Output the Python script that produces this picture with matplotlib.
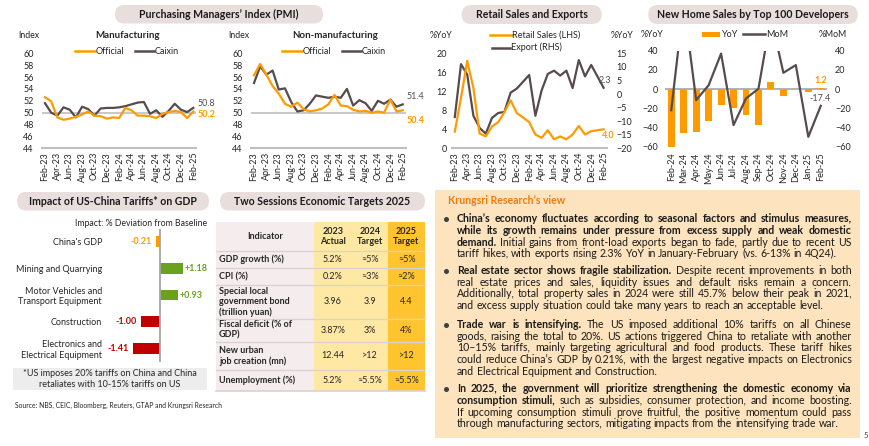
import matplotlib
matplotlib.use('Agg')
import matplotlib.pyplot as plt
from matplotlib.patches import FancyBboxPatch, Rectangle
from matplotlib.font_manager import FontProperties

W, H = 870, 446
FONT = ['Lato', 'DejaVu Sans']
plt.rcParams['font.family'] = FONT

# ---------------- data ----------------
pmi_months = ['Feb-23', 'Mar-23', 'Apr-23', 'May-23', 'Jun-23', 'Jul-23', 'Aug-23', 'Sep-23',
              'Oct-23', 'Nov-23', 'Dec-23', 'Jan-24', 'Feb-24', 'Mar-24', 'Apr-24', 'May-24',
              'Jun-24', 'Jul-24', 'Aug-24', 'Sep-24', 'Oct-24', 'Nov-24', 'Dec-24', 'Jan-25', 'Feb-25']
mfg_official = [52.6, 51.9, 49.2, 48.8, 49.0, 49.3, 49.7, 50.2, 49.5, 49.4, 49.0, 49.2, 49.1,
                50.8, 50.4, 49.5, 49.5, 49.4, 49.1, 49.8, 50.1, 50.3, 50.1, 49.1, 50.2]
mfg_caixin = [51.6, 50.0, 49.5, 50.9, 50.5, 49.2, 51.0, 50.6, 49.5, 50.7, 50.8, 50.8, 50.9,
              51.1, 51.4, 51.7, 51.8, 49.8, 50.4, 49.3, 50.3, 51.5, 50.5, 50.1, 50.8]
nonmfg_official = [56.3, 58.2, 56.4, 54.5, 53.2, 51.5, 51.0, 51.7, 50.6, 50.2, 50.4, 50.7, 51.4,
                   53.0, 51.2, 51.1, 50.5, 50.2, 50.3, 50.0, 50.2, 50.0, 52.2, 50.2, 50.4]
nonmfg_caixin = [55.0, 57.8, 56.4, 57.1, 53.9, 54.1, 51.8, 50.2, 50.4, 51.5, 52.9, 52.7, 52.5,
                 52.7, 52.5, 54.0, 51.2, 52.1, 51.6, 50.3, 52.0, 51.5, 52.2, 51.0, 51.4]

retail_sales = [3.5, 10.6, 18.4, 12.7, 3.1, 2.5, 4.6, 5.5, 7.6, 10.1, 7.4, 6.5, 5.5,
                2.9, 2.2, 3.8, 1.9, 2.5, 1.9, 2.9, 4.7, 2.9, 3.6, 3.8, 4.0]
exports = [-8.5, 11.0, 7.2, -8.0, -12.5, -14.6, -8.8, -7.0, -6.6, 0.5, 2.0, 4.5, 7.0,
           -8.0, 1.3, 7.4, 8.6, 6.8, 8.6, 2.2, 12.5, 6.5, 10.7, 6.5, 2.3]

home_months = ['Feb-24', 'Mar-24', 'Apr-24', 'May-24', 'Jun-24', 'Jul-24', 'Aug-24',
               'Sep-24', 'Oct-24', 'Nov-24', 'Dec-24', 'Jan-25', 'Feb-25']
home_yoy = [-60.0, -46.0, -45.0, -33.5, -17.0, -19.5, -27.0, -37.8, 7.3, -7.0, -0.2, -3.3, 1.2]
home_mom = [-22.0, 90.0, -11.5, 4.0, 37.0, -37.5, -9.7, 0.4, 75.0, 17.0, 25.0, -49.7, -17.4]

tariff_sectors = ["China's GDP", 'Mining and Quarrying', 'Motor Vehicles and\nTransport Equipment',
                  'Construction', 'Electronics and\nElectrical Equipment']
tariff_impact = [-0.21, 1.18, 0.93, -1.00, -1.41]

table_indicators = [['GDP growth (%)'], ['CPI (%)'],
                    ['Special local', 'government bond', '(trillion yuan)'],
                    ['Fiscal deficit (% of', 'GDP)'],
                    ['New urban', 'job creation (mn)'],
                    ['Unemployment (%)']]
actual_2023 = ['5.2%', '0.2%', '3.96', '3.87%', '12.44', '5.2%']
target_2024 = ['≈5%', '≈3%', '3.9', '3%', '>12', '≈5.5%']
target_2025 = ['≈5%', '≈2%', '4.4', '4%', '>12', '≈5.5%']

# ---------------- styling ----------------
ORANGE = '#FF9A00'
DARK = '#584B4E'
GRID = '#BFBFBF'
TXT = '#262626'
GREEN = '#6AA11E'
RED = '#C00000'
PILL = '#E8DFDD'

fig = plt.figure(figsize=(W / 100, H / 100), dpi=100)
bg = fig.add_axes([0, 0, 1, 1])
bg.set_xlim(0, W)
bg.set_ylim(H, 0)
bg.axis('off')


def rect(x0, y0, x1, y1):
    return [x0 / W, 1 - y1 / H, (x1 - x0) / W, (y1 - y0) / H]


def pill(x0, y0, x1, y1, text):
    r = (y1 - y0) / 2
    bg.add_patch(FancyBboxPatch((x0, y0), x1 - x0, y1 - y0,
                                boxstyle=f'round,pad=0,rounding_size={r}',
                                fc=PILL, ec='none', zorder=1))
    bg.text((x0 + x1) / 2, (y0 + y1) / 2 + 0.5, text, ha='center', va='center',
            fontsize=7.6, fontweight='bold', color='#1a1a1a', zorder=2)


def px2pt(p):
    return p * 0.72


def style_axes(ax):
    for s in ['top', 'right', 'left']:
        ax.spines[s].set_visible(False)
    ax.spines['bottom'].set_color(GRID)
    ax.spines['bottom'].set_linewidth(1.5)
    ax.patch.set_visible(False)
    ax.tick_params(length=0, labelsize=6.5, colors=TXT)
    ax.tick_params(axis='x', pad=px2pt(3.5))


# ---------------- PMI charts ----------------
pill(115, 5, 323, 23.5, 'Purchasing Managers’ Index (PMI)')


def pmi_chart(x0, x1, official, caixin, title, title_x, idx_x, leg_x, lab_hi, lab_lo, ypad):
    ax = fig.add_axes(rect(x0, 53.3, x1, 148.3))
    xs = range(len(pmi_months))
    ax.axhline(50, color=GRID, lw=1.2, zorder=0)
    ax.plot(xs, caixin, color=DARK, lw=1.6, zorder=3)
    ax.plot(xs, official, color=ORANGE, lw=1.6, zorder=4)
    ax.set_xlim(-0.5, len(pmi_months) - 0.5)
    ax.set_ylim(44, 60)
    ax.set_yticks(range(44, 61, 2))
    ax.set_xticks(range(0, len(pmi_months), 2))
    ax.set_xticklabels(pmi_months[::2], rotation=90)
    style_axes(ax)
    ax.tick_params(axis='y', pad=px2pt(ypad))
    n = len(pmi_months) - 1
    ax.annotate(f'{caixin[-1]:.1f}', (n, caixin[-1]), xytext=(px2pt(4), px2pt(lab_hi)),
                textcoords='offset points', ha='left', va='center', fontsize=6.5, color=DARK)
    ax.annotate(f'{official[-1]:.1f}', (n, official[-1]), xytext=(px2pt(4), px2pt(lab_lo)),
                textcoords='offset points', ha='left', va='center', fontsize=6.5,
                color=ORANGE, fontweight='bold')
    bg.text(idx_x, 35, 'Index', ha='center', va='center', fontsize=6.3, color=TXT)
    bg.text(title_x, 35.5, title, ha='center', va='center', fontsize=7, fontweight='bold', color=TXT)
    lx = leg_x
    bg.plot([lx, lx + 20], [51, 51], color=ORANGE, lw=1.8)
    bg.text(lx + 21, 51, 'Official', va='center', fontsize=6.5, color=TXT)
    bg.plot([lx + 60, lx + 79], [51, 51], color=DARK, lw=1.8)
    bg.text(lx + 80, 51, 'Caixin', va='center', fontsize=6.5, color=TXT)
    return ax


pmi_chart(41.9, 196.4, mfg_official, mfg_caixin, 'Manufacturing', 128, 28.5, 75, 4, -3, 8)
pmi_chart(250.9, 405.8, nonmfg_official, nonmfg_caixin, 'Non-manufacturing', 335, 239, 282,
          7.5, -10, 8)

# ---------------- Retail sales & exports ----------------
pill(461.7, 5, 601.7, 24, 'Retail Sales and Exports')
axr = fig.add_axes(rect(451.7, 53.3, 606.7, 148.3))
xs = range(len(pmi_months))
axr.plot(xs, retail_sales, color=ORANGE, lw=1.6, zorder=4)
axr.set_xlim(-0.5, len(pmi_months) - 0.5)
axr.set_ylim(0, 20)
axr.set_yticks(range(0, 21, 4))
axr.set_xticks(range(0, len(pmi_months), 2))
axr.set_xticklabels(pmi_months[::2], rotation=90)
style_axes(axr)
axr.tick_params(axis='y', pad=px2pt(4.5))
axr2 = axr.twinx()
axr2.plot(xs, exports, color=DARK, lw=1.6, zorder=3)
axr2.set_ylim(-20, 15)
axr2.set_yticks(range(-20, 16, 5))
for s in ['top', 'right', 'left', 'bottom']:
    axr2.spines[s].set_visible(False)
axr2.tick_params(length=0, labelsize=6.5, colors=TXT, pad=px2pt(10))
axr2.set_zorder(axr.get_zorder() - 1)
axr.set_zorder(axr2.get_zorder() + 1)
axr.patch.set_visible(False)
n = len(pmi_months) - 1
axr2.annotate(f'{exports[-1]:.1f}', (n, exports[-1]), xytext=(px2pt(-5), px2pt(7)),
              textcoords='offset points', ha='left', va='center', fontsize=6.5, color=DARK)
axr.annotate(f'{retail_sales[-1]:.1f}', (n, retail_sales[-1]), xytext=(px2pt(-1.5), px2pt(-6)),
             textcoords='offset points', ha='left', va='center', fontsize=6.5,
             color=ORANGE, fontweight='bold')
bg.text(441, 35, '%YoY', ha='center', va='center', fontsize=6.3, color=TXT)
bg.text(622.5, 35, '%YoY', ha='center', va='center', fontsize=6.3, color=TXT)
bg.plot([490, 511.7], [35, 35], color=ORANGE, lw=1.8)
bg.text(512.5, 35, 'Retail Sales (LHS)', va='center', fontsize=6.5, color=TXT)
bg.plot([491.7, 510], [47.7, 47.7], color=DARK, lw=1.8)
bg.text(510.8, 47.7, 'Export (RHS)', va='center', fontsize=6.5, color=TXT)

# ---------------- New home sales ----------------
pill(648.3, 5, 857.7, 24, 'New Home Sales by Top 100 Developers')
axh = fig.add_axes(rect(665, 50.7, 827, 146.7))
hx = range(len(home_months))
axh.axhline(0, color='#A6A6A6', lw=1.2, zorder=1)
axh.bar(hx, home_yoy, width=0.56, color=ORANGE, zorder=2)
axh.set_xlim(-0.5, len(home_months) - 0.5)
axh.set_ylim(-60, 40)
axh.set_yticks(range(-60, 41, 20))
axh.set_xticks(list(hx))
axh.set_xticklabels(home_months, rotation=90)
style_axes(axh)
axh.spines['bottom'].set_visible(False)
axh.tick_params(axis='y', pad=px2pt(7))
axh.tick_params(axis='x', pad=px2pt(6))
axh2 = axh.twinx()
axh2.plot(hx, home_mom, color=DARK, lw=1.6, zorder=3)
axh2.set_ylim(-60, 40)
axh2.set_yticks(range(-60, 41, 20))
for s in ['top', 'right', 'left', 'bottom']:
    axh2.spines[s].set_visible(False)
axh2.tick_params(length=0, labelsize=6.5, colors=TXT, pad=px2pt(8))
nh = len(home_months) - 1
axh.annotate(f'{home_yoy[-1]:.1f}', (nh, home_yoy[-1]), xytext=(px2pt(0), px2pt(7.5)),
             textcoords='offset points', ha='center', va='center', fontsize=6.5,
             color=ORANGE, fontweight='bold')
axh2.annotate(f'{home_mom[-1]:.1f}', (nh, home_mom[-1]), xytext=(px2pt(-0.5), px2pt(7)),
              textcoords='offset points', ha='center', va='center', fontsize=6.5, color=DARK)
bg.text(652.5, 34.3, '%YoY', ha='center', va='center', fontsize=6.3, color=TXT)
bg.text(833, 34.3, '%MoM', ha='center', va='center', fontsize=6.3, color=TXT)
bg.add_patch(Rectangle((701.7, 31.5), 18.3, 5.5, fc=ORANGE, ec='none'))
bg.text(722, 34.3, 'YoY', va='center', fontsize=6.5, color=TXT)
bg.plot([743, 765], [34.3, 34.3], color=DARK, lw=1.8)
bg.text(765.7, 34.3, 'MoM', va='center', fontsize=6.5, color=TXT)

# ---------------- Tariff impact ----------------
pill(17, 192, 209, 210.5, 'Impact of US-China Tariffs* on GDP')
bg.text(207, 223, 'Impact: % Deviation from Baseline', ha='right', va='center', fontsize=6.3,
        color=TXT)
axt = fig.add_axes(rect(104, 228.5, 212, 361.5))
ty = range(len(tariff_sectors))
tcols = [ORANGE if i == 0 else (GREEN if v > 0 else RED) for i, v in enumerate(tariff_impact)]
axt.barh(ty, tariff_impact, height=0.4, color=tcols, zorder=2)
axt.axvline(0, color='#A6A6A6', lw=1.3, zorder=3)
axt.set_xlim(-(160 - 104) / 19.2, (212 - 160) / 19.2)
axt.set_ylim(len(tariff_sectors) - 0.5, -0.5)
axt.set_yticks(list(ty))
axt.set_yticklabels(tariff_sectors, fontsize=6.5, color=TXT, ha='right', multialignment='right')
axt.set_xticks([])
for s in ['top', 'right', 'left', 'bottom']:
    axt.spines[s].set_visible(False)
axt.tick_params(length=0, pad=px2pt(2))
axt.patch.set_visible(False)
for i, v in enumerate(tariff_impact):
    lab = f'{v:+.2f}' if v > 0 else f'{v:.2f}'
    off = px2pt(1.5) if v > 0 else px2pt(-4.5)
    axt.annotate(lab, (v, i), xytext=(off, 0), textcoords='offset points',
                 ha='left' if v > 0 else 'right', va='center', fontsize=6.5,
                 fontweight='bold', color=tcols[i])
bg.add_patch(Rectangle((13, 367.7), 194, 22.3, fc='#EDEDED', ec='none'))
bg.text(110, 373.5, '*US imposes 20% tariffs on China and China', ha='center', va='center',
        fontsize=6.5, color=TXT)
bg.text(110, 384.3, 'retaliates with 10-15% tariffs on US', ha='center', va='center',
        fontsize=6.5, color=TXT)
bg.text(15, 405.5, 'Source: NBS, CEIC, Bloomberg, Reuters, GTAP and Krungsri Research',
        ha='left', va='center', fontsize=4.9, color=TXT)

# ---------------- Table ----------------
pill(220, 192, 425, 210.5, 'Two Sessions Economic Targets 2025')
cols = [216, 314, 351.7, 388, 425]
rows = [222.3, 250.7, 268.3, 285, 319, 341.7, 370, 391]
col_fc = ['#F5EDED', '#FFE8A4', '#FFE8A4', '#FFC42E']
for c in range(4):
    bg.add_patch(Rectangle((cols[c], rows[0]), cols[c + 1] - cols[c], rows[-1] - rows[0],
                           fc=col_fc[c], ec='none', zorder=1))
for r in rows[1:-1]:
    bg.plot([cols[0], cols[-1]], [r, r], color='#D9D2D0', lw=0.9, zorder=2)
bg.plot([cols[0], cols[-1]], [rows[-1], rows[-1]], color='#D9D2D0', lw=1.2, zorder=2)

TS = 6.5
hy = (rows[0] + rows[1]) / 2
bg.text((cols[0] + cols[1]) / 2, hy, 'Indicator', ha='center', va='center', fontsize=TS,
        fontweight='bold', color=TXT, zorder=3)
for c, (a, b) in zip(range(1, 4), [('2023', 'Actual'), ('2024', 'Target'), ('2025', 'Target')]):
    cx = (cols[c] + cols[c + 1]) / 2
    bg.text(cx, hy - 5, a, ha='center', va='center', fontsize=TS, fontweight='bold', color=TXT,
            zorder=3)
    bg.text(cx, hy + 5, b, ha='center', va='center', fontsize=TS, fontweight='bold', color=TXT,
            zorder=3)
for i, lines in enumerate(table_indicators):
    cy = (rows[i + 1] + rows[i + 2]) / 2
    nl = len(lines)
    for k, ln in enumerate(lines):
        bg.text(219, cy + (k - (nl - 1) / 2) * 10, ln, ha='left', va='center', fontsize=TS,
                fontweight='bold', color=TXT, zorder=3)
    for c, vals in zip(range(1, 4), [actual_2023, target_2024, target_2025]):
        cx = (cols[c] + cols[c + 1]) / 2
        bg.text(cx, cy, vals[i], ha='center', va='center', fontsize=TS, color=TXT, zorder=3)

# ---------------- Krungsri view text box ----------------
bg.add_patch(Rectangle((435, 190), 425, 248, fc='#FDE4BE', ec='none', zorder=0))
bg.text(448, 201, 'Krungsri Research’s view', ha='left', va='center', fontsize=7.6,
        fontweight='bold', color='#F07A10')

paras = [
    (219.3, [[('China’s economy fluctuates according to seasonal factors and stimulus measures,', 1)],
             [('while its growth remains under pressure from excess supply and weak domestic', 1)],
             [('demand.', 1), ('Initial gains from front-load exports began to fade, partly due to recent US', 0)],
             [('tariff hikes, with exports rising 2.3% YoY in January-February (vs. 6-13% in 4Q24).', 0)]]),
    (271.0, [[('Real estate sector shows fragile stabilization.', 1), ('Despite recent improvements in both', 0)],
             [('real estate prices and sales, liquidity issues and default risks remain a concern.', 0)],
             [('Additionally, total property sales in 2024 were still 45.7% below their peak in 2021,', 0)],
             [('and excess supply situation could take many years to reach an acceptable level.', 0)]]),
    (325.0, [[('Trade war is intensifying.', 1), ('The US imposed additional 10% tariffs on all Chinese', 0)],
             [('goods, raising the total to 20%. US actions triggered China to retaliate with another', 0)],
             [('10–15% tariffs, mainly targeting agricultural and food products. These tariff hikes', 0)],
             [('could reduce China’s GDP by 0.21%, with the largest negative impacts on Electronics', 0)],
             [('and Electrical Equipment and Construction.', 0)]]),
    (389.3, [[('In 2025, the government will prioritize strengthening the domestic economy via', 1)],
             [('consumption stimuli,', 1), ('such as subsidies, consumer protection, and income boosting.', 0)],
             [('If upcoming consumption stimuli prove fruitful, the positive momentum could pass', 0)],
             [('through manufacturing sectors, mitigating impacts from the intensifying trade war.', 0)]]),
]
X0, X1 = 456.7, 851.7
DY = 11.6
renderer = fig.canvas.get_renderer()


def tw(s, size, weight):
    fp = FontProperties(family=FONT, size=size, weight=weight)
    w, h, d = renderer.get_text_width_height_descent(s, fp, ismath=False)
    return w


def raster_shift(s, size, weight):
    # vertical offset (px) that Agg's integer placement gives this string's baseline
    try:
        from matplotlib.backends.backend_agg import get_hinting_flag
        fp = FontProperties(family=FONT, size=size, weight=weight)
        font = renderer._prepare_font(fp)
        font.set_text(s, 0, flags=get_hinting_flag())
        wh = font.get_width_height()
        hh = int(wh[1])
        dd = font.get_descent()
        ymax = hh - dd
        _, yo = font.get_bitmap_offset()
        j = round(yo / 64.0 + dd / 64.0) - hh // 64 + int(ymax // 64)
        return j
    except Exception:
        return 0


def words_of(segs):
    out = []
    for txt, b in segs:
        for wd in txt.split():
            out.append((wd, 'bold' if b else 'normal'))
    return out


REF = 10.0
sp_ref = tw('a a', REF, 'normal') - tw('aa', REF, 'normal')
mx = 0
for _, lines in paras:
    for segs in lines:
        ws = words_of(segs)
        nat = sum(tw(w, REF, wt) for w, wt in ws) + sp_ref * (len(ws) - 1)
        mx = max(mx, nat)
BS = REF * (X1 - X0) / mx * 0.995

shifts = []
for y0, lines in paras:
    for segs in lines:
        for w, wt in words_of(segs):
            shifts.append(raster_shift(w, BS, wt))
base_shift = max(set(shifts), key=shifts.count) if shifts else 0

for y0, lines in paras:
    bg.plot([446.5], [y0], marker='o', ms=2.6, color='#404040')
    for i, segs in enumerate(lines):
        ws = words_of(segs)
        wid = [tw(w, BS, wt) for w, wt in ws]
        last = (i == len(lines) - 1)
        if last:
            gap = tw('a a', BS, 'normal') - tw('aa', BS, 'normal')
        else:
            gap = (X1 - X0 - sum(wid)) / (len(ws) - 1)
        x = X0
        yb = round(y0 + i * DY + 3.2)
        for (w, wt), wd in zip(ws, wid):
            corr = raster_shift(w, BS, wt) - base_shift
            bg.text(x, yb - corr, w, ha='left', va='baseline', fontsize=BS, fontweight=wt,
                    color='#1a1a1a')
            x += wd + gap

bg.text(866, 436, '5', ha='center', va='center', fontsize=5.5, color='#404040')

fig.savefig('out.png', dpi=100)
